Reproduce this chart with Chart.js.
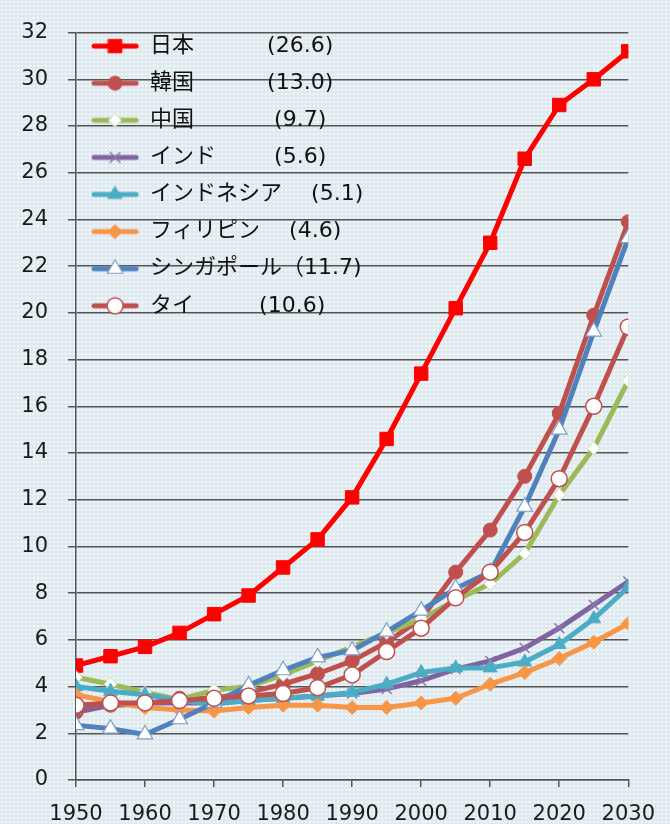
<!DOCTYPE html>
<html>
<head>
<meta charset="utf-8">
<script src="https://cdn.jsdelivr.net/npm/chart.js@4/dist/chart.umd.min.js"></script>
<style>
  html, body { margin: 0; padding: 0; }
  body {
    width: 670px; height: 824px;
    background-color: #dfe9f0;
    background-image: radial-gradient(circle, rgba(255,255,255,0.7) 0.9px, transparent 1.3px);
    background-size: 4px 4px;
  }
  #wrap { position: relative; width: 670px; height: 824px; }
</style>
</head>
<body>
<div id="wrap"><canvas id="lineChart"></canvas></div>
<script>
const years = [1950, 1955, 1960, 1965, 1970, 1975, 1980, 1985, 1990, 1995, 2000, 2005, 2010, 2015, 2020, 2025, 2030];

const japan       = [4.9, 5.3, 5.7, 6.3, 7.1, 7.9, 9.1, 10.3, 12.1, 14.6, 17.4, 20.2, 23.0, 26.6, 28.9, 30.0, 31.2];
const korea       = [2.9, 3.2, 3.25, 3.5, 3.5, 3.75, 4.1, 4.55, 5.1, 5.9, 6.9, 8.9, 10.7, 13.0, 15.7, 19.9, 23.9];
const china       = [4.4, 4.1, 3.75, 3.45, 3.85, 4.0, 4.5, 5.1, 5.7, 6.3, 6.9, 7.7, 8.4, 9.7, 12.2, 14.2, 17.1];
const india       = [3.0, 3.2, 3.3, 3.3, 3.3, 3.4, 3.5, 3.6, 3.7, 3.9, 4.25, 4.75, 5.1, 5.65, 6.5, 7.5, 8.5];
const indonesia   = [4.0, 3.8, 3.65, 3.4, 3.25, 3.4, 3.5, 3.6, 3.75, 4.1, 4.6, 4.8, 4.8, 5.05, 5.8, 6.9, 8.25];
const philippines = [3.65, 3.35, 3.1, 3.0, 2.95, 3.1, 3.2, 3.2, 3.1, 3.1, 3.3, 3.5, 4.1, 4.6, 5.2, 5.9, 6.7];
const singapore   = [2.35, 2.2, 1.95, 2.6, 3.3, 4.05, 4.7, 5.25, 5.55, 6.35, 7.25, 8.2, 8.9, 11.7, 15.0, 19.2, 23.2];
const thailand    = [3.2, 3.3, 3.3, 3.4, 3.5, 3.6, 3.7, 3.95, 4.5, 5.5, 6.5, 7.8, 8.9, 10.6, 12.9, 16.0, 19.4];

// legend text, spacing kept as in the original slide
const seriesLabels = [
    '日本\u3000\u3000\u3000 (26.6)',
    '韓国\u3000\u3000\u3000 (13.0)',
    '中国\u3000\u3000\u3000  (9.7)',
    'インド\u3000\u3000  (5.6)',
    'インドネシア\u3000 (5.1)',
    'フィリピン\u3000 (4.6)',
    'シンガポール（11.7)',
    'タイ\u3000\u3000   (10.6)'
];

const fontFamily = '"DejaVu Sans", "Noto Sans CJK JP", sans-serif';
const gridColor = '#555555';

function series(label, values, color, style) {
    return Object.assign({
        label: label,
        data: years.map((y, i) => ({x: y, y: values[i]})),
        borderColor: color,
        backgroundColor: color,
        borderWidth: 5,
        pointBorderColor: color,
        pointBackgroundColor: color,
        pointBorderWidth: 1,
        borderJoinStyle: 'round',
        borderCapStyle: 'round',
        tension: 0
    }, style);
}

const datasets = [
    series(seriesLabels[0], japan, '#ff0000', {pointStyle: 'rect', pointRadius: 9.5}),
    series(seriesLabels[1], korea, '#c0504d', {pointStyle: 'circle', pointRadius: 7}),
    series(seriesLabels[2], china, '#9bbb59', {pointStyle: 'rectRot', pointRadius: 6.5, pointBackgroundColor: '#ffffff', pointBorderColor: '#c9dca4'}),
    series(seriesLabels[3], india, '#8064a2', {pointStyle: 'crossRot', pointRadius: 7, pointBorderWidth: 1.5, pointBorderColor: '#8a78ab'}),
    series(seriesLabels[4], indonesia, '#4bacc6', {pointStyle: 'triangle', pointRadius: 8}),
    series(seriesLabels[5], philippines, '#f79646', {pointStyle: 'rectRot', pointRadius: 7}),
    series(seriesLabels[6], singapore, '#4f81bd', {pointStyle: 'triangle', pointRadius: 9, pointBackgroundColor: '#ffffff', pointBorderColor: '#7f9fc8', pointBorderWidth: 1.2}),
    series(seriesLabels[7], thailand, '#c0504d', {pointStyle: 'circle', pointRadius: 8, pointBackgroundColor: '#ffffff', pointBorderWidth: 1.5})
];
// later series are painted over earlier ones, as in the source
datasets.forEach((ds, i) => { ds.order = datasets.length - i; });

// legend swatch: short line with the marker on it
function swatch(ds) {
    const c = document.createElement('canvas');
    c.width = 48;
    c.height = 24;
    const ctx = c.getContext('2d');
    ctx.strokeStyle = ds.borderColor;
    ctx.lineWidth = 5;
    ctx.lineCap = 'round';
    ctx.beginPath();
    ctx.moveTo(3, 12);
    ctx.lineTo(45, 12);
    ctx.stroke();
    ctx.fillStyle = ds.pointBackgroundColor;
    ctx.strokeStyle = ds.pointBorderColor;
    ctx.lineWidth = ds.pointBorderWidth;
    Chart.helpers.drawPoint(ctx, {
        pointStyle: ds.pointStyle,
        radius: ds.pointRadius,
        rotation: 0,
        borderWidth: ds.pointBorderWidth
    }, 24, 12);
    return c;
}

const chartConfig = {
    type: 'line',
    data: { datasets: datasets },
    options: {
        responsive: true,
        maintainAspectRatio: false,
        animation: false,
        layout: { padding: { top: 20, right: 39, left: 0, bottom: 0 } },
        plugins: {
            tooltip: { enabled: false },
            legend: {
                position: 'chartArea',
                align: 'start',
                // empty title only pushes the list down into place
                title: { display: true, text: ' ', font: { size: 10 }, padding: { top: 8, bottom: 0 } },
                labels: {
                    usePointStyle: true,
                    pointStyleWidth: 48,
                    padding: 15.1,
                    color: '#111111',
                    font: { family: fontFamily, size: 22 },
                    generateLabels: function(chart) {
                        return chart.data.datasets.map((ds, i) => ({
                            text: ds.label,
                            datasetIndex: i,
                            pointStyle: swatch(ds),
                            fillStyle: ds.borderColor,
                            strokeStyle: ds.borderColor,
                            lineWidth: 0,
                            hidden: false,
                            fontColor: '#111111'
                        }));
                    }
                }
            }
        },
        scales: {
            x: {
                type: 'linear',
                min: 1950,
                max: 2030,
                afterFit: function(scale) { scale.height = 44; },
                ticks: {
                    stepSize: 10,
                    padding: 15,
                    color: '#1a1a1a',
                    font: { family: fontFamily, size: 21 },
                    maxRotation: 0,
                    callback: function(value) { return String(value); }
                },
                grid: {
                    drawOnChartArea: false,
                    drawTicks: true,
                    tickLength: 7,
                    color: gridColor,
                    lineWidth: 1.5
                },
                border: { display: true, color: gridColor, width: 1.5 }
            },
            y: {
                min: 0,
                max: 32,
                afterFit: function(scale) { scale.width = 76; },
                ticks: {
                    stepSize: 2,
                    padding: 20,
                    color: '#1a1a1a',
                    font: { family: fontFamily, size: 21 }
                },
                grid: {
                    drawTicks: true,
                    tickLength: 8,
                    color: gridColor,
                    lineWidth: 1.5
                },
                border: { display: true, color: gridColor, width: 1.5 }
            }
        }
    }
};

let chartID = document.getElementById('lineChart');
let chart   = new Chart(chartID, chartConfig);
</script>
</body>
</html>
